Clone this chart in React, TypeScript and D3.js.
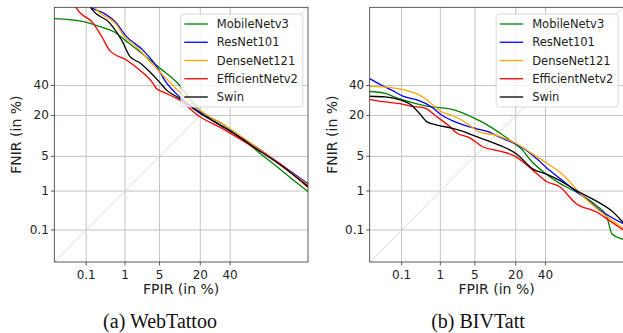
import React from 'react';
import * as d3 from 'd3';

// DET curves, values are [FPIR %, FNIR %]
const tickValues = [0.1, 1, 5, 20, 40];
const axisMin = 0.01;
const axisMax = 90;

const modelNames = ['MobileNetv3', 'ResNet101', 'DenseNet121', 'EfficientNetv2', 'Swin'];
const modelColors = ['#008000', '#0000ff', '#ffa500', '#ff0000', '#000000'];

// (a) WebTattoo
const webMobileNetv3 = [[0.01, 85.5], [0.083, 84.1], [0.24, 81.6], [0.64, 77.9], [1.0, 73.8], [1.53, 69.5], [2.43, 64], [5.05, 53.5], [9.9, 41.7], [14.7, 30.6], [19.8, 22.8], [34.8, 15.5], [47.4, 10.3], [60.4, 6.33], [72.3, 3.7], [82.2, 2.0], [90, 0.98]];
const webResNet101 = [[0.1, 93], [0.14, 90], [0.29, 88], [0.64, 83.3], [1.0, 77], [2.43, 67], [4.4, 55], [6.15, 44], [10.6, 31.6], [19.8, 21.8], [34.8, 14.3], [60.4, 7.2], [76.5, 3.7], [90, 1.45]];
const webDenseNet121 = [[0.12, 93], [0.175, 90], [0.64, 82.5], [1.0, 75.5], [1.5, 71.8], [3.3, 58.8], [5.7, 48], [9.9, 36.5], [19.8, 23.0], [37.3, 14.5], [60.4, 7.2], [90, 1.36]];
const webEfficientNetv2 = [[0.035, 93], [0.052, 89.6], [0.158, 83.3], [0.27, 75.9], [0.44, 66.5], [1.1, 59.6], [2.1, 51.9], [3.84, 41.4], [4.4, 37.7], [5.75, 35.2], [10.6, 29.4], [19.8, 19.3], [32.4, 14.2], [57.8, 7.2], [76.5, 3.7], [90, 1.2]];
const webSwin = [[0.1, 92.5], [0.14, 89.6], [0.44, 83.3], [0.84, 73.8], [1.3, 62.3], [2.1, 57.6], [3.3, 50.6], [5.05, 42.4], [6.6, 36.5], [9.9, 31.4], [19.8, 21.2], [37.3, 13.5], [60.4, 6.75], [78.5, 3.2], [90, 1.27]];

// (b) BIVTatt
const bivMobileNetv3 = [[0.01, 35.5], [0.032, 34.1], [0.08, 30.6], [0.235, 27.3], [0.62, 25.0], [1.08, 24.4], [2.07, 23.0], [4.35, 19.2], [7.4, 15.8], [13.8, 10.9], [19.8, 8.0], [24.2, 6.3], [28.7, 4.4], [38, 2.6], [51, 1.48], [63.8, 0.95], [77.4, 0.45], [82.8, 0.25], [85.5, 0.076], [90, 0.053]];
const bivResNet101 = [[0.01, 45.3], [0.025, 40.2], [0.051, 36.5], [0.125, 31.6], [0.28, 29.4], [0.62, 25.0], [1.08, 20.1], [1.77, 17.4], [3.26, 15.0], [5.4, 13.5], [8.8, 12.1], [12.4, 10.2], [19.8, 8.1], [30.9, 5.2], [40.7, 3.1], [51.0, 1.9], [61.3, 1.12], [70, 0.7], [79.3, 0.35], [90, 0.15]];
const bivDenseNet121 = [[0.01, 39.5], [0.08, 37.7], [0.235, 34.3], [0.43, 30.6], [0.75, 25.0], [1.08, 22.0], [1.77, 20.1], [3.26, 16.6], [6.1, 12.1], [11.1, 10.9], [20.5, 8.1], [28.7, 5.9], [40.7, 3.8], [51.0, 2.55], [57.1, 1.8], [67.5, 0.82], [79.3, 0.33], [90, 0.11]];
const bivEfficientNetv2 = [[0.01, 30.0], [0.032, 28.2], [0.08, 27.3], [0.19, 25.4], [0.43, 24.2], [0.75, 20.1], [1.08, 17.4], [1.5, 15.0], [2.3, 11.7], [4.05, 10.0], [6.9, 7.2], [11.1, 6.33], [19.8, 5.0], [30.9, 2.73], [40.7, 1.62], [51.0, 1.25], [63.8, 0.5], [77.4, 0.31], [84.4, 0.18], [90, 0.1]];
const bivSwin = [[0.01, 32.1], [0.032, 31.6], [0.08, 30.0], [0.19, 26.1], [0.31, 21.1], [0.47, 16.8], [0.9, 15.0], [1.77, 13.8], [2.6, 12.8], [6.1, 10.0], [12.4, 7.65], [20.5, 5.5], [30.9, 2.9], [40.7, 2.3], [51.0, 1.71], [63.8, 1.03], [77.4, 0.58], [85.9, 0.31], [90, 0.16]];

const webSeries = [webMobileNetv3, webResNet101, webDenseNet121, webEfficientNetv2, webSwin];
const bivSeries = [bivMobileNetv3, bivResNet101, bivDenseNet121, bivEfficientNetv2, bivSwin];

// inverse normal CDF (Acklam)
function probit(p: number): number {
  const a = [-39.69683028665376, 220.9460984245205, -275.9285104469687, 138.357751867269, -30.66479806614716, 2.506628277459239];
  const b = [-54.47609879822406, 161.5858368580409, -155.6989798598866, 66.80131188771972, -13.28068155288572];
  const c = [-0.007784894002430293, -0.3223964580411365, -2.400758277161838, -2.549732539343734, 4.374664141464968, 2.938163982698783];
  const d = [0.007784695709041462, 0.3224671290700398, 2.445134137142996, 3.754408661907416];
  const plow = 0.02425;
  if (p < plow) {
    const q = Math.sqrt(-2 * Math.log(p));
    return (((((c[0] * q + c[1]) * q + c[2]) * q + c[3]) * q + c[4]) * q + c[5]) / ((((d[0] * q + d[1]) * q + d[2]) * q + d[3]) * q + 1);
  }
  if (p > 1 - plow) {
    const q = Math.sqrt(-2 * Math.log(1 - p));
    return -(((((c[0] * q + c[1]) * q + c[2]) * q + c[3]) * q + c[4]) * q + c[5]) / ((((d[0] * q + d[1]) * q + d[2]) * q + d[3]) * q + 1);
  }
  const q = p - 0.5;
  const r = q * q;
  return (((((a[0] * r + a[1]) * r + a[2]) * r + a[3]) * r + a[4]) * r + a[5]) * q / (((((b[0] * r + b[1]) * r + b[2]) * r + b[3]) * r + b[4]) * r + 1);
}

const W = 253.7;
const H = 254.7;
const TOP = 7.3;
const FONT = '"DejaVu Sans", sans-serif';

function Panel({ ox, series, id }: { ox: number; series: number[][][]; id: string }) {
  const x = d3.scaleLinear().domain([probit(axisMin / 100), probit(axisMax / 100)]).range([0, W]);
  const y = d3.scaleLinear().domain([probit(axisMin / 100), probit(axisMax / 100)]).range([H, 0]);
  const line = d3.line<number[]>()
    .x(d => x(probit(d[0] / 100)))
    .y(d => y(probit(d[1] / 100)))
    .curve(d3.curveMonotoneX);

  const legendX = 126.5;
  const legendY = 14 - TOP;

  return (
    <g transform={`translate(${ox},${TOP})`}>
      <defs>
        <clipPath id={`clip-${id}`}>
          <rect x={0} y={0} width={W} height={H} />
        </clipPath>
      </defs>
      {/* grid */}
      {tickValues.map(t => (
        <g key={`g${t}`}>
          <line x1={x(probit(t / 100))} x2={x(probit(t / 100))} y1={0} y2={H} stroke="#c4c4c4" strokeWidth={1} />
          <line x1={0} x2={W} y1={y(probit(t / 100))} y2={y(probit(t / 100))} stroke="#c4c4c4" strokeWidth={1} />
        </g>
      ))}
      {/* diagonal */}
      <line x1={x(probit(axisMin / 100))} y1={y(probit(axisMin / 100))} x2={x(probit(axisMax / 100))} y2={y(probit(axisMax / 100))}
        stroke="#cfcfcf" strokeWidth={0.8} />
      {/* curves */}
      <g clipPath={`url(#clip-${id})`}>
        {series.map((s, i) => (
          <path key={modelNames[i]} d={line(s) || ''} fill="none" stroke={modelColors[i]} strokeWidth={1.3} strokeLinejoin="round" />
        ))}
      </g>
      {/* frame */}
      <rect x={0} y={0} width={W} height={H} fill="none" stroke="#333" strokeWidth={0.8} />
      {/* ticks */}
      {tickValues.map(t => (
        <g key={`t${t}`} fontFamily={FONT} fontSize={12} fill="#222">
          <line x1={x(probit(t / 100))} x2={x(probit(t / 100))} y1={H} y2={H + 3.5} stroke="#333" strokeWidth={0.8} />
          <text x={x(probit(t / 100))} y={H + 17} textAnchor="middle">{t}</text>
          <line x1={-3.5} x2={0} y1={y(probit(t / 100))} y2={y(probit(t / 100))} stroke="#333" strokeWidth={0.8} />
          <text x={-5.5} y={y(probit(t / 100))} textAnchor="end" dominantBaseline="central">{t}</text>
        </g>
      ))}
      {/* axis labels */}
      <text x={W / 2} y={H + 32} textAnchor="middle" fontFamily={FONT} fontSize={14} fill="#222">FPIR (in %)</text>
      <text transform={`translate(-33,${H / 2}) rotate(-90)`} textAnchor="middle" fontFamily={FONT} fontSize={14} fill="#222">FNIR (in %)</text>
      {/* legend */}
      <g transform={`translate(${legendX},${legendY})`}>
        <rect x={0} y={0} width={122} height={93} rx={2.5} fill="#fff" fillOpacity={0.8} stroke="#d0d0d0" strokeWidth={0.8} />
        {modelNames.map((name, i) => (
          <g key={name} transform={`translate(0,${10 + i * 18.25})`}>
            <line x1={3.5} x2={27} y1={0} y2={0} stroke={modelColors[i]} strokeWidth={1.3} />
            <text x={36} y={0} dominantBaseline="central" fontFamily={FONT} fontSize={11.5} fill="#222">{name}</text>
          </g>
        ))}
      </g>
    </g>
  );
}

export default function App() {
  return (
    <svg width={623} height={333} style={{ position: 'absolute', left: 0, top: 0, display: 'block', background: '#fff' }}>
      <rect x={0} y={0} width={623} height={333} fill="#fff" />
      <Panel ox={54.3} series={webSeries} id="web" />
      <Panel ox={369.7} series={bivSeries} id="biv" />
      <text x={160} y={328} textAnchor="middle" fontFamily='"Liberation Serif", "Times New Roman", serif' fontSize={20} fill="#111">(a) WebTattoo</text>
      <text x={478} y={328} textAnchor="middle" fontFamily='"Liberation Serif", "Times New Roman", serif' fontSize={20} fill="#111">(b) BIVTatt</text>
    </svg>
  );
}
